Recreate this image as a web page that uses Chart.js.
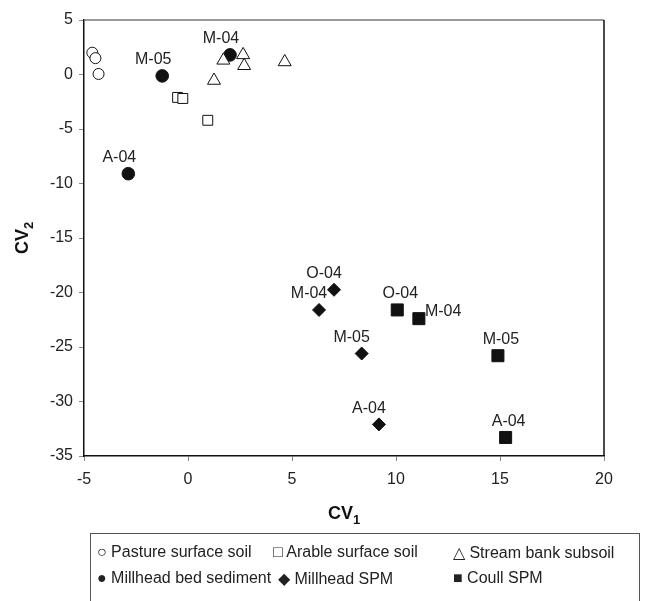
<!DOCTYPE html>
<html>
<head>
<meta charset="utf-8">
<script src="https://cdn.jsdelivr.net/npm/chart.js@4"></script>
<style>
    body { margin: 0; background: #fff; font-family: Arial, "Liberation Sans", sans-serif; }
    #wrap { position: relative; width: 649px; height: 601px; overflow: hidden; }
    #legend {
        position: absolute; left: 90px; top: 533px; width: 548px; height: 90px;
        border: 1px solid #555; color: #222; font-size: 16px;
    }
    #legend span { position: absolute; white-space: nowrap; }
</style>
</head>
<body>
<div id="wrap">
    <canvas id="cvChart" width="649" height="601"></canvas>
    <div id="legend"></div>
</div>
<script>
// tick values
const xTickValues = [-5, 0, 5, 10, 15, 20];
const yTickValues = [5, 0, -5, -10, -15, -20, -25, -30, -35];

// source samples
const pastureX = [-4.6, -4.45, -4.3];
const pastureY = [2.0, 1.5, 0.05];
const arableX = [-0.5, -0.25, 0.95];
const arableY = [-2.1, -2.2, -4.2];
const bankX = [1.25, 1.7, 2.65, 2.7, 4.65];
const bankY = [-0.55, 1.3, 1.8, 0.8, 1.15];

// sediment samples
const bedLabels = ['A-04', 'M-05', 'M-04'];
const bedX = [-2.87, -1.24, 2.02];
const bedY = [-9.1, -0.13, 1.8];
const millLabels = ['O-04', 'M-04', 'M-05', 'A-04'];
const millX = [7.02, 6.3, 8.35, 9.18];
const millY = [-19.75, -21.6, -25.6, -32.1];
const coullLabels = ['O-04', 'M-04', 'M-05', 'A-04'];
const coullX = [10.06, 11.1, 14.9, 15.27];
const coullY = [-21.6, -22.4, -25.8, -33.3];
const coullLabelSide = ['above', 'right', 'above', 'above'];

const legendItems = [
    ['\u25CB Pasture surface soil', 6, 9],
    ['\u25A1 Arable surface soil', 182, 9],
    ['\u25B3 Stream bank subsoil', 362, 9],
    ['\u25CF Millhead bed sediment', 6, 35],
    ['\u25C6 Millhead SPM', 187, 35],
    ['\u25A0 Coull SPM', 362, 35]
];

function toPoints(xs, ys) {
    return xs.map((x, i) => ({ x: x, y: ys[i] }));
}

function renderLegend() {
    const box = document.getElementById('legend');
    box.innerHTML = '';
    legendItems.forEach((item) => {
        const span = document.createElement('span');
        span.textContent = item[0];
        span.style.left = item[1] + 'px';
        span.style.top = item[2] + 'px';
        box.appendChild(span);
    });
}

// point labels, frame and axis titles
const extrasPlugin = {
    id: 'extras',
    afterDatasetsDraw(chart) {
        const ctx = chart.ctx;
        const area = chart.chartArea;
        ctx.save();
        // top and right border of the plot
        ctx.strokeStyle = '#777';
        ctx.lineWidth = 1.5;
        ctx.beginPath();
        ctx.moveTo(area.left, area.top);
        ctx.lineTo(area.right, area.top);
        ctx.stroke();
        ctx.strokeStyle = '#111';
        ctx.beginPath();
        ctx.moveTo(area.right, area.top);
        ctx.lineTo(area.right, area.bottom);
        ctx.stroke();

        ctx.font = '16px Arial, "Liberation Sans", sans-serif';
        ctx.fillStyle = '#222';
        ctx.textBaseline = 'middle';
        chart.data.datasets.forEach((ds, di) => {
            if (!ds.pointLabels) return;
            const meta = chart.getDatasetMeta(di);
            meta.data.forEach((pt, i) => {
                const side = ds.labelSide ? ds.labelSide[i] : 'above';
                if (side === 'right') {
                    ctx.textAlign = 'left';
                    ctx.fillText(ds.pointLabels[i], pt.x + 6, pt.y - 7);
                } else {
                    ctx.textAlign = 'center';
                    ctx.fillText(ds.pointLabels[i], pt.x + ds.labelDx, pt.y - 16);
                }
            });
        });

        // axis titles with subscripts
        ctx.fillStyle = '#111';
        ctx.textAlign = 'left';
        ctx.textBaseline = 'alphabetic';
        const xMid = (area.left + area.right) / 2;
        drawSubTitle(ctx, 'CV', '1', xMid, 519);
        ctx.translate(28, (area.top + area.bottom) / 2);
        ctx.rotate(-Math.PI / 2);
        drawSubTitle(ctx, 'CV', '2', 0, 0);
        ctx.restore();
    }
};

function drawSubTitle(ctx, main, sub, cx, baseY) {
    ctx.font = 'bold 18px Arial, "Liberation Sans", sans-serif';
    const w1 = ctx.measureText(main).width;
    ctx.font = 'bold 13px Arial, "Liberation Sans", sans-serif';
    const w2 = ctx.measureText(sub).width;
    const start = cx - (w1 + w2) / 2;
    ctx.font = 'bold 18px Arial, "Liberation Sans", sans-serif';
    ctx.fillText(main, start, baseY);
    ctx.font = 'bold 13px Arial, "Liberation Sans", sans-serif';
    ctx.fillText(sub, start + w1, baseY + 5);
}

function drawChart() {
    const canvas = document.getElementById('cvChart');
    const ink = '#111';
    const data = {
        datasets: [
            { label: 'Pasture surface soil', data: toPoints(pastureX, pastureY), pointStyle: 'circle',
              pointRadius: 5.5, backgroundColor: '#fff', borderColor: ink, borderWidth: 1 },
            { label: 'Arable surface soil', data: toPoints(arableX, arableY), pointStyle: 'rect',
              pointRadius: 7, backgroundColor: '#fff', borderColor: ink, borderWidth: 1 },
            { label: 'Stream bank subsoil', data: toPoints(bankX, bankY), pointStyle: 'triangle',
              pointRadius: 7.5, backgroundColor: '#fff', borderColor: ink, borderWidth: 1 },
            { label: 'Millhead bed sediment', data: toPoints(bedX, bedY), pointStyle: 'circle',
              pointRadius: 6.3, backgroundColor: ink, borderColor: ink, borderWidth: 1,
              pointLabels: bedLabels, labelDx: -9 },
            { label: 'Millhead SPM', data: toPoints(millX, millY), pointStyle: 'rectRot',
              pointRadius: 6.5, backgroundColor: ink, borderColor: ink, borderWidth: 1,
              pointLabels: millLabels, labelDx: -10 },
            { label: 'Coull SPM', data: toPoints(coullX, coullY), pointStyle: 'rect',
              pointRadius: 8.5, backgroundColor: ink, borderColor: ink, borderWidth: 1,
              pointLabels: coullLabels, labelDx: 3, labelSide: coullLabelSide }
        ]
    };

    const tickFont = { family: 'Arial, "Liberation Sans", sans-serif', size: 16 };
    const config = {
        type: 'scatter',
        data: data,
        options: {
            responsive: false,
            animation: false,
            layout: { padding: { left: 0, top: 20, right: 45, bottom: 105 } },
            plugins: { legend: { display: false }, tooltip: { enabled: false } },
            scales: {
                x: {
                    type: 'linear', min: -5, max: 20,
                    afterBuildTicks: (s) => { s.ticks = xTickValues.map(v => ({ value: v })); },
                    afterFit: (s) => { s.height = 40; },
                    grid: { drawOnChartArea: false, tickLength: 5, color: '#888' },
                    border: { color: '#111', width: 1.5 },
                    ticks: { color: '#222', font: tickFont, padding: 9, maxRotation: 0 }
                },
                y: {
                    type: 'linear', min: -35, max: 5,
                    afterBuildTicks: (s) => { s.ticks = yTickValues.map(v => ({ value: v })); },
                    afterFit: (s) => { s.width = 84; },
                    grid: { drawOnChartArea: false, tickLength: 5, color: '#888' },
                    border: { color: '#111', width: 1.5 },
                    ticks: { color: '#222', font: tickFont, padding: 6 }
                }
            }
        },
        plugins: [extrasPlugin]
    };

    new Chart(canvas, config);
}

renderLegend();
drawChart();
</script>
</body>
</html>
